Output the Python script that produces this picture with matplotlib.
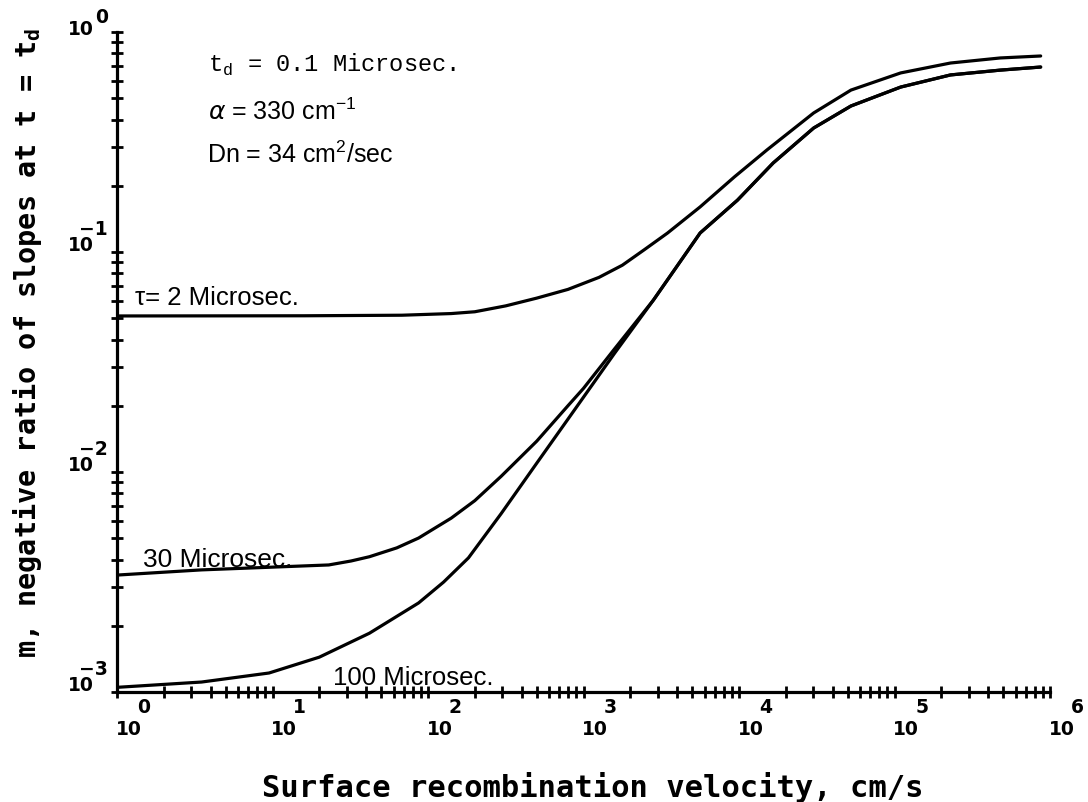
import numpy as np
import matplotlib
matplotlib.use("Agg")
import matplotlib.pyplot as plt
from matplotlib.ticker import LogLocator, NullFormatter

### DATA ###
# surface recombination velocity S (cm/s) and m for each lifetime
s_tau2 = [1, 16, 68, 141, 200, 316, 500, 794, 1259, 1778, 2455, 3467, 5623,
          9333, 15136, 30200, 52480, 109600, 229100, 478600, 871000]
m_tau2 = [0.0512, 0.0513, 0.0516, 0.0525, 0.0535, 0.0569, 0.0617, 0.0676,
          0.0767, 0.0871, 0.1023, 0.1219, 0.1603, 0.2193, 0.2911, 0.4285,
          0.5445, 0.6516, 0.7228, 0.7621, 0.7780]

s_tau30 = [1, 3.5, 23, 32, 42, 63, 87, 141, 200, 295, 500, 794, 1000, 1585,
           2818, 5623, 9772, 16600, 30200, 52480, 109600, 229100, 478600, 871000]
m_tau30 = [0.0034, 0.00359, 0.00378, 0.00394, 0.00412, 0.00452, 0.00501,
           0.00617, 0.00741, 0.00955, 0.0138, 0.0200, 0.0240, 0.0363, 0.0605,
           0.122, 0.172, 0.254, 0.366, 0.461, 0.562, 0.638, 0.671, 0.693]

s_tau100 = [1, 3.5, 9.5, 20, 42, 87, 126, 182, 295, 500, 794, 1000, 1585, 2818,
            5623, 9772, 16600, 30200, 52480, 109600, 229100, 478600, 871000]
m_tau100 = [0.00105, 0.00111, 0.00122, 0.00144, 0.00185, 0.00254, 0.00316,
            0.00407, 0.00646, 0.01096, 0.01738, 0.02188, 0.03467, 0.0605,
            0.122, 0.172, 0.254, 0.366, 0.461, 0.562, 0.638, 0.671, 0.693]

x_decades = [0, 1, 2, 3, 4, 5, 6]
y_decades = [0, -1, -2, -3]

SANS = ["Liberation Sans", "DejaVu Sans"]
MONO = ["Liberation Mono", "DejaVu Sans Mono"]
PLOTTER = ["DejaVu Sans Mono"]

### PLOT ###
fig = plt.figure(figsize=(10.88, 8.02), dpi=100)
ax = fig.add_axes([117 / 1088, 1 - 692 / 802, (1050 - 117) / 1088, (692 - 32) / 802])

for s, m in [(s_tau2, m_tau2), (s_tau30, m_tau30), (s_tau100, m_tau100)]:
    ax.plot(s, m, color="black", lw=2.3, solid_capstyle="round", solid_joinstyle="round")

ax.set_xscale("log")
ax.set_yscale("log")
ax.set_xlim(1, 1e6)
ax.set_ylim(1e-3, 1)

ax.spines[["top", "right"]].set_visible(False)
ax.spines[["left", "bottom"]].set_linewidth(2.3)

ax.xaxis.set_major_locator(LogLocator(base=10, numticks=10))
ax.xaxis.set_minor_locator(LogLocator(base=10, subs=np.arange(2, 10), numticks=40))
ax.yaxis.set_major_locator(LogLocator(base=10, numticks=10))
ax.yaxis.set_minor_locator(LogLocator(base=10, subs=np.arange(2, 10), numticks=40))
ax.xaxis.set_minor_formatter(NullFormatter())
ax.yaxis.set_minor_formatter(NullFormatter())
ax.tick_params(which="both", direction="inout", length=9, width=2,
               labelbottom=False, labelleft=False)

# decade labels, "10" with the exponent raised above-right like the plotter did it
for k in x_decades:
    ax.annotate("10", xy=(10 ** k, 0), xycoords=("data", "axes fraction"),
                xytext=(8.5, -27), textcoords="offset points", ha="center", va="center",
                fontsize=13.5, fontweight="bold", family="DejaVu Sans")
    ax.annotate(str(k), xy=(10 ** k, 0), xycoords=("data", "axes fraction"),
                xytext=(19.5, -11), textcoords="offset points", ha="center", va="center",
                fontsize=13.5, fontweight="bold", family="DejaVu Sans")
for k in y_decades:
    # top label sits a little lower than the others on the scan
    dy10, dyexp = (1.5, 10.5) if k == 0 else (4.5, 16)
    ax.annotate("10", xy=(0, 10 ** k), xycoords=("axes fraction", "data"),
                xytext=(-26, dy10), textcoords="offset points", ha="center", va="center",
                fontsize=13.5, fontweight="bold", family="DejaVu Sans")
    ax.annotate(str(k).replace("-", "\u2212"), xy=(0, 10 ** k), xycoords=("axes fraction", "data"),
                xytext=(-6.5, dyexp), textcoords="offset points", ha="right", va="center",
                fontsize=13.5, fontweight="bold", family="DejaVu Sans")

# parameter block
ax.text(0.0975, 0.939, "t$_{\\mathregular{d}}$ = 0.1 Microsec.", transform=ax.transAxes,
        fontsize=17, family=MONO, va="baseline")
ax.text(0.0975, 0.867, "$\\alpha$ = 330 cm$^{\\mathregular{-1}}$", transform=ax.transAxes,
        fontsize=18, family=SANS, va="baseline")
ax.text(0.0965, 0.802, "Dn = 34 cm$^{\\mathregular{2}}$/sec", transform=ax.transAxes,
        fontsize=18, family=SANS, va="baseline")

# curve labels
ax.text(0.0193, 0.586, "\u03c4= 2 Microsec.", transform=ax.transAxes,
        fontsize=18.5, family=SANS, va="baseline")
ax.text(0.0279, 0.189, "30 Microsec.", transform=ax.transAxes,
        fontsize=19, family=SANS, va="baseline")
ax.text(0.2315, 0.0106, "100 Microsec.", transform=ax.transAxes,
        fontsize=18.5, family=SANS, va="baseline")

fig.text(0.545, 0.0175, "Surface recombination velocity, cm/s", ha="center", va="center",
         fontsize=22, fontweight="bold", family=PLOTTER)
fig.text(0.0257, 0.572, "m, negative ratio of slopes at t = t$_{\\mathregular{d}}$",
         ha="center", va="center", rotation=90,
         fontsize=20.5, fontweight="bold", family=PLOTTER)

fig.savefig("out.png", dpi=100)
